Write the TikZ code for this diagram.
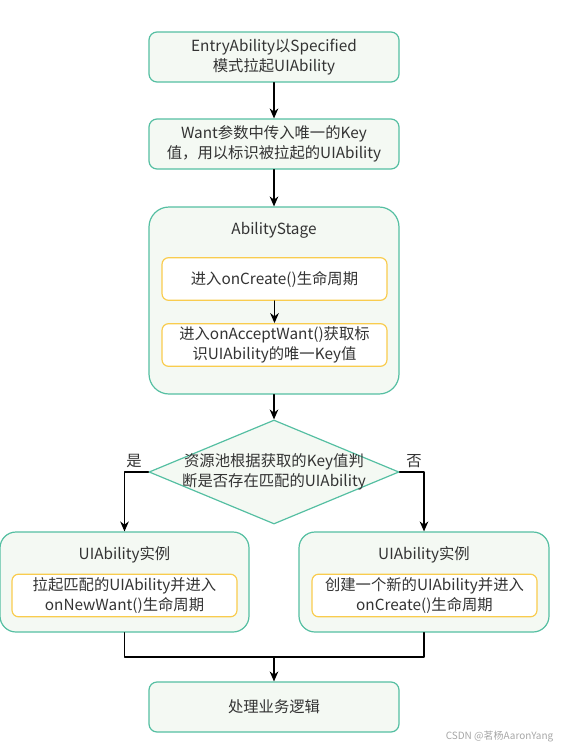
\documentclass[tikz,border=0pt]{standalone}
\usepackage{fontspec}
\setmainfont{Noto Sans CJK SC}
\usepackage{xcolor}
\usepackage{tikz}
\usetikzlibrary{positioning,shapes.geometric,arrows.meta}

\definecolor{flowgreen}{HTML}{55BFA2}
\definecolor{flowfill}{HTML}{F4F9F3}
\definecolor{flowyellow}{HTML}{F9CC4E}
\definecolor{flowtext}{HTML}{333333}

\begin{document}
\begin{tikzpicture}[x=0.75pt, y=-0.75pt, >={Stealth[length=7.5pt,width=6.5pt]}, line cap=round, line join=round,
		every node/.style={font=\fontsize{11.5pt}{15pt}\selectfont, text=flowtext},
		stepbox/.style={draw=flowgreen, fill=flowfill, line width=0.9pt, rounded corners=6pt, minimum width=187.5pt, minimum height=37.5pt, align=center, inner sep=0pt},
		groupbox/.style={draw=flowgreen, fill=flowfill, line width=0.9pt, rounded corners=15pt, minimum width=187.5pt, inner sep=0pt},
		innerbox/.style={draw=flowyellow, fill=white, line width=0.9pt, rounded corners=5pt, minimum width=168.75pt, minimum height=32pt, align=center, inner sep=0pt},
		decision/.style={diamond, draw=flowgreen, fill=flowfill, line width=0.9pt, minimum width=187.5pt, minimum height=78pt, inner sep=0pt},
		flow/.style={->, line width=0.8pt, black}]
		\useasboundingbox (0,0) rectangle (562,747);
		
		\node[stepbox] (entry) at (274,57) {EntryAbility以Specified\\模式拉起UIAbility};
		\node[stepbox] (want) at (274,144) {Want参数中传入唯一的Key\\值，用以标识被拉起的UIAbility};
		
		% AbilityStage
		\node[groupbox, minimum height=140.25pt] (stage) at (274,300.5) {};
		\node (stagetitle) at (274,230) {AbilityStage};
		\node[innerbox] (create) at (274.5,279) {进入onCreate()生命周期};
		\node[innerbox] (accept) at (274.5,345) {进入onAcceptWant()获取标\\识UIAbility的唯一Key值};
		
		\node[decision] (judge) at (274,472) {};
		\node[align=center] (judgetext) at (judge) {资源池根据获取的Key值判\\断是否存在匹配的UIAbility};
		
		% UIAbility instances
		\node[groupbox, rounded corners=12pt, minimum width=186.75pt, minimum height=75pt] (oldinst) at (124.5,582) {};
		\node (oldtitle) at (124.5,555) {UIAbility实例};
		\node[innerbox] (newwant) at (124.5,595.5) {拉起匹配的UIAbility并进入\\onNewWant()生命周期};
		\node[groupbox, rounded corners=12pt, minimum height=75pt] (newinst) at (424,582) {};
		\node (newtitle) at (424,555) {UIAbility实例};
		\node[innerbox] (newcreate) at (424.5,595.5) {创建一个新的UIAbility并进入\\onCreate()生命周期};
		
		\node[stepbox] (handle) at (274,707) {处理业务逻辑};
		\coordinate (merge) at (274,657);
		
		\draw[flow] (entry) -- (want);
		\draw[flow] (want) -- (stage);
		\draw[flow] (create) -- (accept);
		\draw[flow] (stage) -- (judge);
		\draw[flow] (judge.west) -| (oldinst.north);
		\draw[flow] (judge.east) -| (newinst.north);
		\node (yes) at (134,461) {是};
		\node (no) at (414,461) {否};
		\draw[line width=0.8pt] (oldinst.south) |- (merge) -| (newinst.south);
		\draw[flow] (merge) -- (handle);
		
		\node[font=\fontsize{7.5pt}{8pt}\selectfont, text=black!35, anchor=east] (mark) at (558,737) {CSDN @茗杨AaronYang};
	\end{tikzpicture}
\end{document}
